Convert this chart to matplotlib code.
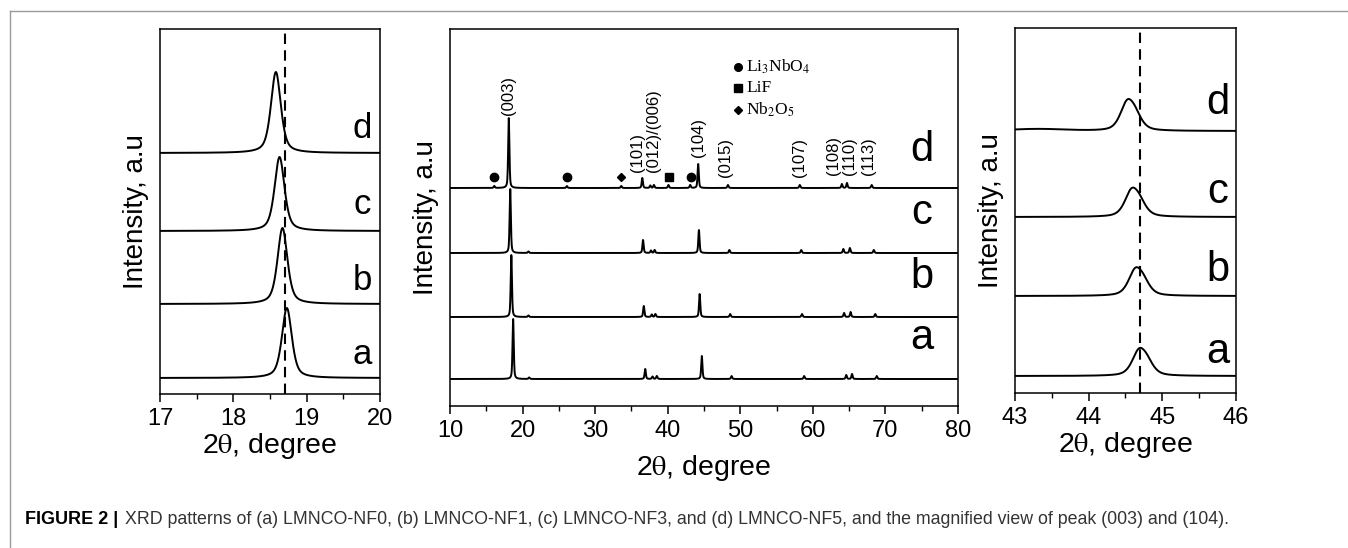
import numpy as np
import matplotlib
matplotlib.use('Agg')
import matplotlib.pyplot as plt
from matplotlib.lines import Line2D

plt.rcParams['font.family'] = ['Liberation Sans', 'DejaVu Sans']
plt.rcParams['mathtext.fontset'] = 'stix'

samples = ['a', 'b', 'c', 'd']

# --- левая панель: пик (003) ---
left_pos = [18.73, 18.67, 18.63, 18.58]
left_height = [70, 76, 74, 81]
left_offset = [16, 90, 163, 241]
left_ref = 18.71

# --- центральная панель: полный спектр ---
mid_offset = [27, 89, 153, 218]
mid_pos = {
    'a': [18.7, 20.9, 36.9, 37.9, 38.5, 44.7, 48.8, 58.8, 64.6, 65.4, 68.8],
    'b': [18.45, 20.8, 36.7, 37.8, 38.3, 44.4, 48.6, 58.5, 64.3, 65.2, 68.6],
    'c': [18.3, 20.8, 36.6, 37.7, 38.2, 44.3, 48.5, 58.4, 64.2, 65.1, 68.4],
    'd': [18.1, 16.1, 26.1, 33.6, 36.5, 37.6, 38.1, 40.1, 43.1, 44.2, 48.3,
          58.2, 64.0, 64.7, 68.1],
}
mid_height = {
    'a': [60, 1.5, 10, 2.5, 3, 23, 3, 3, 4, 5, 3],
    'b': [62, 1.5, 11, 2.5, 3, 23, 3, 3, 4, 5, 3],
    'c': [64, 1.5, 13, 2.5, 3, 23, 3, 3, 4, 5, 3],
    'd': [70, 2, 2, 2, 10, 2.5, 3, 3, 3, 24, 3, 3, 4, 5, 3],
}
hkl_labels = ['(003)', '(101)', '(012)/(006)', '(104)', '(015)',
              '(107)', '(108)', '(110)', '(113)']
hkl_x = [18.1, 35.8, 38.0, 44.2, 47.9, 58.2, 62.8, 65.1, 67.6]
hkl_y = [291, 234, 234, 249, 229, 229, 231, 231, 231]
li3nbo4_x = [16.1, 26.1, 43.2]
lif_x = [40.2]
nb2o5_x = [33.6]

# --- правая панель: пик (104) ---
right_pos = [44.68, 44.63, 44.58, 44.52]
right_height = [22, 22.5, 23, 25]
right_offset = [17, 97, 176, 262]
right_ref = 44.70


def profile(x, centers, heights, fwhm, eta=0.5):
    y = np.zeros_like(x)
    for c, h in zip(centers, heights):
        t = 4 * (x - c) ** 2 / fwhm ** 2
        y += h * (eta / (1 + t) + (1 - eta) * np.exp(-np.log(2) * t))
    return y


fig = plt.figure(figsize=(13.48, 5.48), dpi=100)

# рамка вокруг рисунка
fig.add_artist(Line2D([10 / 1348, 1], [1 - 11 / 548] * 2, color='#999999', lw=1))
fig.add_artist(Line2D([10 / 1348] * 2, [0, 1 - 11 / 548], color='#999999', lw=1))

ax1 = fig.add_axes([160 / 1348, 154 / 548, 220 / 1348, 365 / 548])
ax2 = fig.add_axes([450 / 1348, 142 / 548, 508 / 1348, 377 / 548])
ax3 = fig.add_axes([1015 / 1348, 155 / 548, 221 / 1348, 365 / 548])

lw = 1.4
# левая
x1 = np.linspace(17, 20, 1500)
for i, s in enumerate(samples):
    y = left_offset[i] + profile(x1, [left_pos[i]], [left_height[i]], 0.16, 0.55)
    ax1.plot(x1, y, color='black', lw=lw)
ax1.axvline(left_ref, color='black', lw=1.5, ls=(0, (5, 3)))
for s, yy in zip(samples, [39, 114, 189, 266]):
    ax1.text(19.76, yy, s, fontsize=25, ha='center', va='center')
ax1.set_xlim(17, 20)
ax1.set_ylim(0, 365)
ax1.set_xticks([17, 18, 19, 20])
ax1.set_xticks([17.5, 18.5, 19.5], minor=True)

# центральная
x2 = np.linspace(10, 80, 8000)
for i, s in enumerate(samples):
    y = mid_offset[i] + profile(x2, mid_pos[s], mid_height[s], 0.2, 0.5)
    ax2.plot(x2, y, color='black', lw=lw)
mark_y = mid_offset[3] + 11
ax2.plot(li3nbo4_x, [mark_y] * len(li3nbo4_x), 'o', color='black', ms=6)
ax2.plot(lif_x, [mark_y] * len(lif_x), 's', color='black', ms=6)
ax2.plot(nb2o5_x, [mark_y] * len(nb2o5_x), 'D', color='black', ms=4.5)
for lab, xx, yy in zip(hkl_labels, hkl_x, hkl_y):
    ax2.text(xx, yy, lab, rotation=90, fontsize=12, ha='center', va='bottom')
# легенда фаз
leg_names = ['Li$_3$NbO$_4$', 'LiF', 'Nb$_2$O$_5$']
leg_marks = ['o', 's', 'D']
leg_ms = [5.5, 5.5, 4.5]
for name, m, ms, yy in zip(leg_names, leg_marks, leg_ms, [339, 318, 296]):
    ax2.plot([49.7], [yy], m, color='black', ms=ms)
    ax2.text(50.8, yy, name, fontsize=12.5, family='Liberation Serif',
             ha='left', va='center')
for s, yy in zip(samples, [68, 129, 193, 256]):
    ax2.text(75.0, yy, s, fontsize=30, ha='center', va='center')
ax2.set_xlim(10, 80)
ax2.set_ylim(0, 377)
ax2.set_xticks(range(10, 81, 10))
ax2.set_xticks(range(15, 80, 10), minor=True)

# правая
x3 = np.linspace(43, 46, 1500)
for i, s in enumerate(samples):
    pos = [right_pos[i], right_pos[i] + 0.11]
    hts = [right_height[i], right_height[i] * 0.5]
    y = right_offset[i] + profile(x3, pos, hts, 0.22, 0.5)
    if s == 'd':
        y = y + profile(x3, [43.3], [2], 0.9, 0.0)
    ax3.plot(x3, y, color='black', lw=lw)
ax3.axvline(right_ref, color='black', lw=1.5, ls=(0, (5, 3)))
for s, yy in zip(samples, [41, 123, 201, 290]):
    ax3.text(45.75, yy, s, fontsize=30, ha='center', va='center')
ax3.set_xlim(43, 46)
ax3.set_ylim(0, 365)
ax3.set_xticks([43, 44, 45, 46])
ax3.set_xticks([43.5, 44.5, 45.5], minor=True)

for ax, pad in [(ax1, 1), (ax2, 8), (ax3, 1)]:
    ax.set_yticks([])
    for sp in ax.spines.values():
        sp.set_linewidth(1.1)
    ax.tick_params(axis='x', which='major', direction='out', length=6,
                   width=1.1, labelsize=17, pad=4)
    ax.tick_params(axis='x', which='minor', direction='out', length=3.5,
                   width=1.0)
    ax.set_xlabel(r'2$\mathrm{\theta}$, degree', fontsize=20.5, labelpad=pad)
    ax.set_ylabel('Intensity, a.u', fontsize=20, labelpad=8)

# подпись
fig.text(25 / 1348, 1 - 520 / 548, 'FIGURE 2 |', fontsize=13,
         fontweight='bold', ha='left', va='center')
fig.text(125 / 1348, 1 - 520 / 548,
         'XRD patterns of (a) LMNCO-NF0, (b) LMNCO-NF1, (c) LMNCO-NF3, and '
         '(d) LMNCO-NF5, and the magnified view of peak (003) and (104).',
         fontsize=12.8, color='#333333', ha='left', va='center')

fig.savefig('out.png', dpi=100)
